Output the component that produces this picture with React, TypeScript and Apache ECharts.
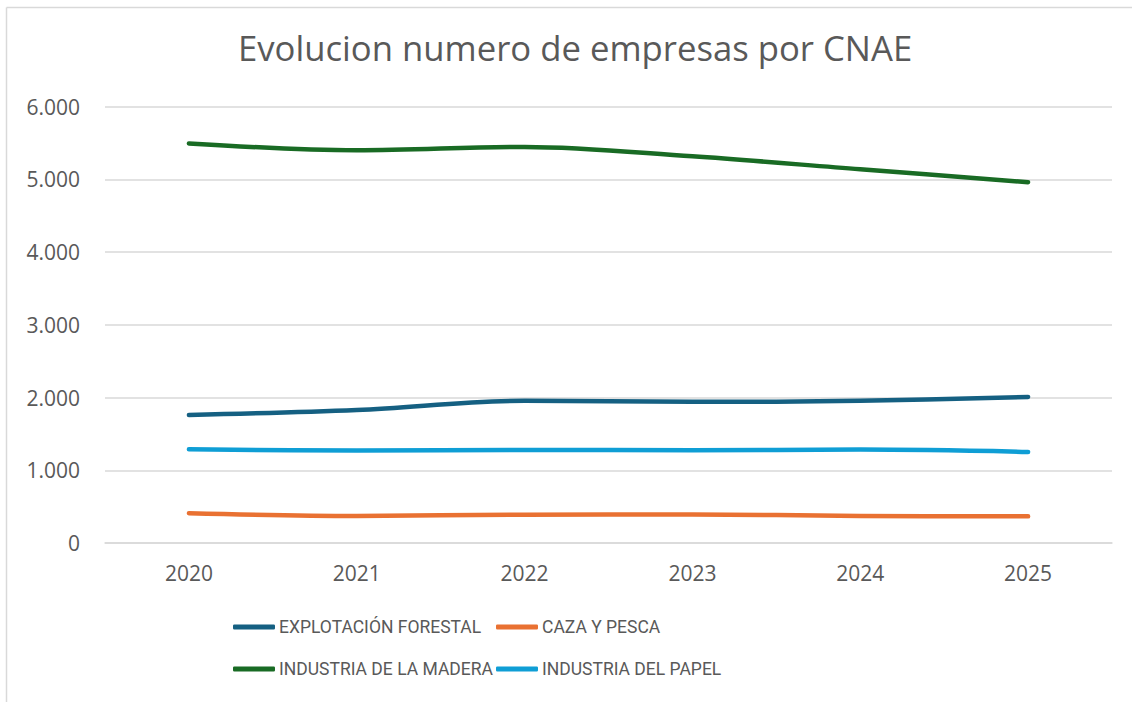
import React, { useEffect, useRef } from "react";
import * as echarts from "echarts";

const years = ["2020", "2021", "2022", "2023", "2024", "2025"];
const explotacionForestal = [1760, 1828, 1955, 1940, 1955, 2008];
const cazaYPesca = [408, 371, 390, 392, 372, 366];
const industriaMadera = [5493, 5398, 5445, 5315, 5137, 4960];
const industriaPapel = [1289, 1270, 1279, 1275, 1284, 1252];

const seriesNames = [
  "EXPLOTACIÓN FORESTAL",
  "CAZA Y PESCA",
  "INDUSTRIA DE LA MADERA",
  "INDUSTRIA DEL PAPEL",
];
const seriesData = [explotacionForestal, cazaYPesca, industriaMadera, industriaPapel];
const colors = ["#156082", "#E97132", "#196B24", "#0F9ED5"];

const fmt = (v: number) => {
  const s = Math.round(v).toString();
  return s.replace(/\B(?=(\d{3})+(?!\d))/g, ".");
};

export default function App() {
  const ref = useRef<HTMLDivElement>(null);
  useEffect(() => {
    if (!ref.current) return;
    const chart = echarts.init(ref.current, undefined, { renderer: "svg" });
    const font = "'Open Sans', Roboto, sans-serif";
    const legendFont = "Roboto, sans-serif";
    const legendBase = {
      orient: "vertical",
      top: 606,
      icon: "roundRect",
      itemWidth: 42,
      itemHeight: 5,
      itemGap: 10,
      textStyle: {
        fontFamily: legendFont,
        fontSize: 17.5,
        color: "#595959",
        lineHeight: 32,
        padding: [0, 0, 0, -1],
      },
    };
    chart.setOption({
      animation: false,
      backgroundColor: "#ffffff",
      title: {
        text: "Evolucion numero de empresas por CNAE",
        left: 233,
        top: 25,
        textStyle: { fontFamily: font, fontSize: 34.7, fontWeight: "normal", color: "#595959" },
      },
      graphic: [
        { type: "line", shape: { x1: 6.5, y1: 7.5, x2: 1132, y2: 7.5 }, style: { stroke: "#d9d9d9", lineWidth: 1.5 } },
        { type: "line", shape: { x1: 6.5, y1: 7.5, x2: 6.5, y2: 702 }, style: { stroke: "#d9d9d9", lineWidth: 1.5 } },
      ],
      grid: { left: 105, right: 20, top: 106.5, bottom: 159, containLabel: false },
      xAxis: {
        type: "category",
        data: years,
        boundaryGap: true,
        axisLine: { show: true, lineStyle: { color: "#d9d9d9", width: 1.5 } },
        axisTick: { show: false },
        axisLabel: { color: "#595959", fontFamily: font, fontSize: 21, margin: 19 },
      },
      yAxis: {
        type: "value",
        min: 0,
        max: 6000,
        interval: 1000,
        axisLine: { show: false },
        axisTick: { show: false },
        splitLine: { lineStyle: { color: "#d9d9d9", width: 1.5 } },
        axisLabel: {
          color: "#595959",
          fontFamily: font,
          fontSize: 21,
          margin: 25,
          formatter: (v: number) => fmt(v),
        },
      },
      legend: [
        { ...legendBase, left: 228, data: [seriesNames[0], seriesNames[2]] },
        { ...legendBase, left: 491, data: [seriesNames[1], seriesNames[3]] },
      ],
      series: seriesNames.map((name, i) => ({
        name,
        type: "line",
        data: seriesData[i],
        smooth: 0.35,
        symbol: "none",
        color: colors[i],
        lineStyle: { width: 4.5, color: colors[i], cap: "round", join: "round" },
      })),
    });
    return () => chart.dispose();
  }, []);
  return <div ref={ref} style={{ width: 1132, height: 702, position: "absolute", left: 0, top: 0 }} />;
}
